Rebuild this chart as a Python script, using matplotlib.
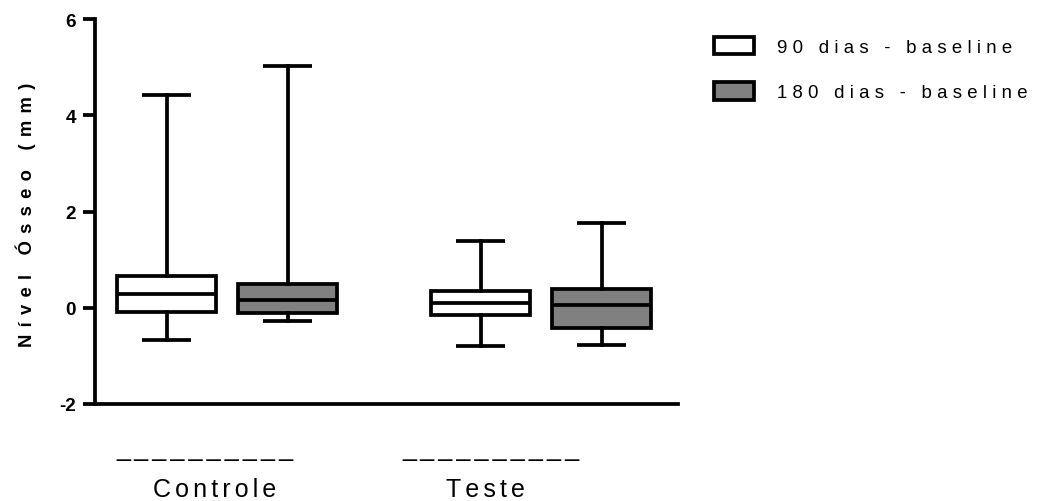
import matplotlib
matplotlib.use("Agg")
import matplotlib.pyplot as plt
import matplotlib.transforms as mtransforms
from matplotlib.patches import Patch

# Data: bone level change (mm) relative to baseline
groups = ["Controle", "Teste"]
series = ["90 dias - baseline", "180 dias - baseline"]
series_colors = ["#ffffff", "#808080"]

# five-number summaries per group, one list per series
whislo = {"90 dias - baseline": [-0.66, -0.80], "180 dias - baseline": [-0.28, -0.77]}
q1 = {"90 dias - baseline": [-0.08, -0.16], "180 dias - baseline": [-0.11, -0.42]}
median = {"90 dias - baseline": [0.29, 0.09], "180 dias - baseline": [0.17, 0.06]}
q3 = {"90 dias - baseline": [0.65, 0.35], "180 dias - baseline": [0.49, 0.39]}
whishi = {"90 dias - baseline": [4.42, 1.38], "180 dias - baseline": [5.03, 1.76]}

yticks = [-2, 0, 2, 4, 6]

# unicode spaces used as letter spacing
HAIR = "\u200a"
SIXTH = "\u2006"
THIN = "\u2009"


def spaced(s, sep):
    return sep.join(s)


fam = ["Liberation Sans", "DejaVu Sans"]
plt.rcParams["font.family"] = fam

W, H = 1044, 502
fig = plt.figure(figsize=(W / 100, H / 100), dpi=100)
ax = fig.add_axes([95 / W, 97 / H, 583 / W, 385 / H])

lw = 2.7
group_start = [0.591, 3.186]
box_w = 0.818

for si, name in enumerate(series):
    stats = []
    positions = []
    for gi in range(len(groups)):
        stats.append(dict(med=median[name][gi], q1=q1[name][gi], q3=q3[name][gi],
                          whislo=whislo[name][gi], whishi=whishi[name][gi]))
        positions.append(group_start[gi] + si)
    ax.bxp(stats, positions=positions, widths=box_w, capwidths=0.4,
           showfliers=False, patch_artist=True,
           boxprops=dict(facecolor=series_colors[si], edgecolor="black", linewidth=lw),
           medianprops=dict(color="black", linewidth=lw, solid_capstyle="butt"),
           whiskerprops=dict(color="black", linewidth=lw),
           capprops=dict(color="black", linewidth=lw, solid_capstyle="butt"))

ax.set_xlim(0, 4.818)
ax.set_ylim(-2, 6)
ax.set_yticks(yticks)
ax.set_yticklabels([str(t) for t in yticks], fontsize=13.6, fontweight="bold")
ax.set_xticks([])
for side in ["top", "right"]:
    ax.spines[side].set_visible(False)
for side in ["left", "bottom"]:
    ax.spines[side].set_linewidth(lw)
ax.tick_params(axis="y", length=8.5, width=lw, pad=5)

ax.set_ylabel(spaced("Nível Ósseo (mm)", THIN + THIN), fontsize=13.2, fontweight="bold")
ax.yaxis.set_label_coords(-0.101, 0.493)

# group labels with a dashed rule above each (x in data units, y in figure pixels)
blend = mtransforms.blended_transform_factory(ax.transData, fig.transFigure)
rule_x = [0.905, 3.27]
label_x = [0.99, 3.23]
for gi, g in enumerate(groups):
    ax.text(rule_x[gi], 1 - 456 / H, spaced("__________", SIXTH), ha="center",
            va="baseline", fontsize=18, transform=blend, clip_on=False)
    ax.text(label_x[gi], 1 - 497 / H, spaced(g, SIXTH), ha="center",
            va="baseline", fontsize=18, transform=blend, clip_on=False)

handles = [Patch(facecolor=c, edgecolor="black", linewidth=lw) for c in series_colors]
fig.legend(handles, [spaced(s, THIN + HAIR) for s in series], loc="upper left",
           bbox_to_anchor=(713.5 / W, 1 - 37.5 / H), frameon=False,
           fontsize=13.4, handlelength=2.15, handleheight=1.07,
           handletextpad=1.25, labelspacing=1.42, borderaxespad=0, borderpad=0)

fig.savefig("out.png", dpi=100)
